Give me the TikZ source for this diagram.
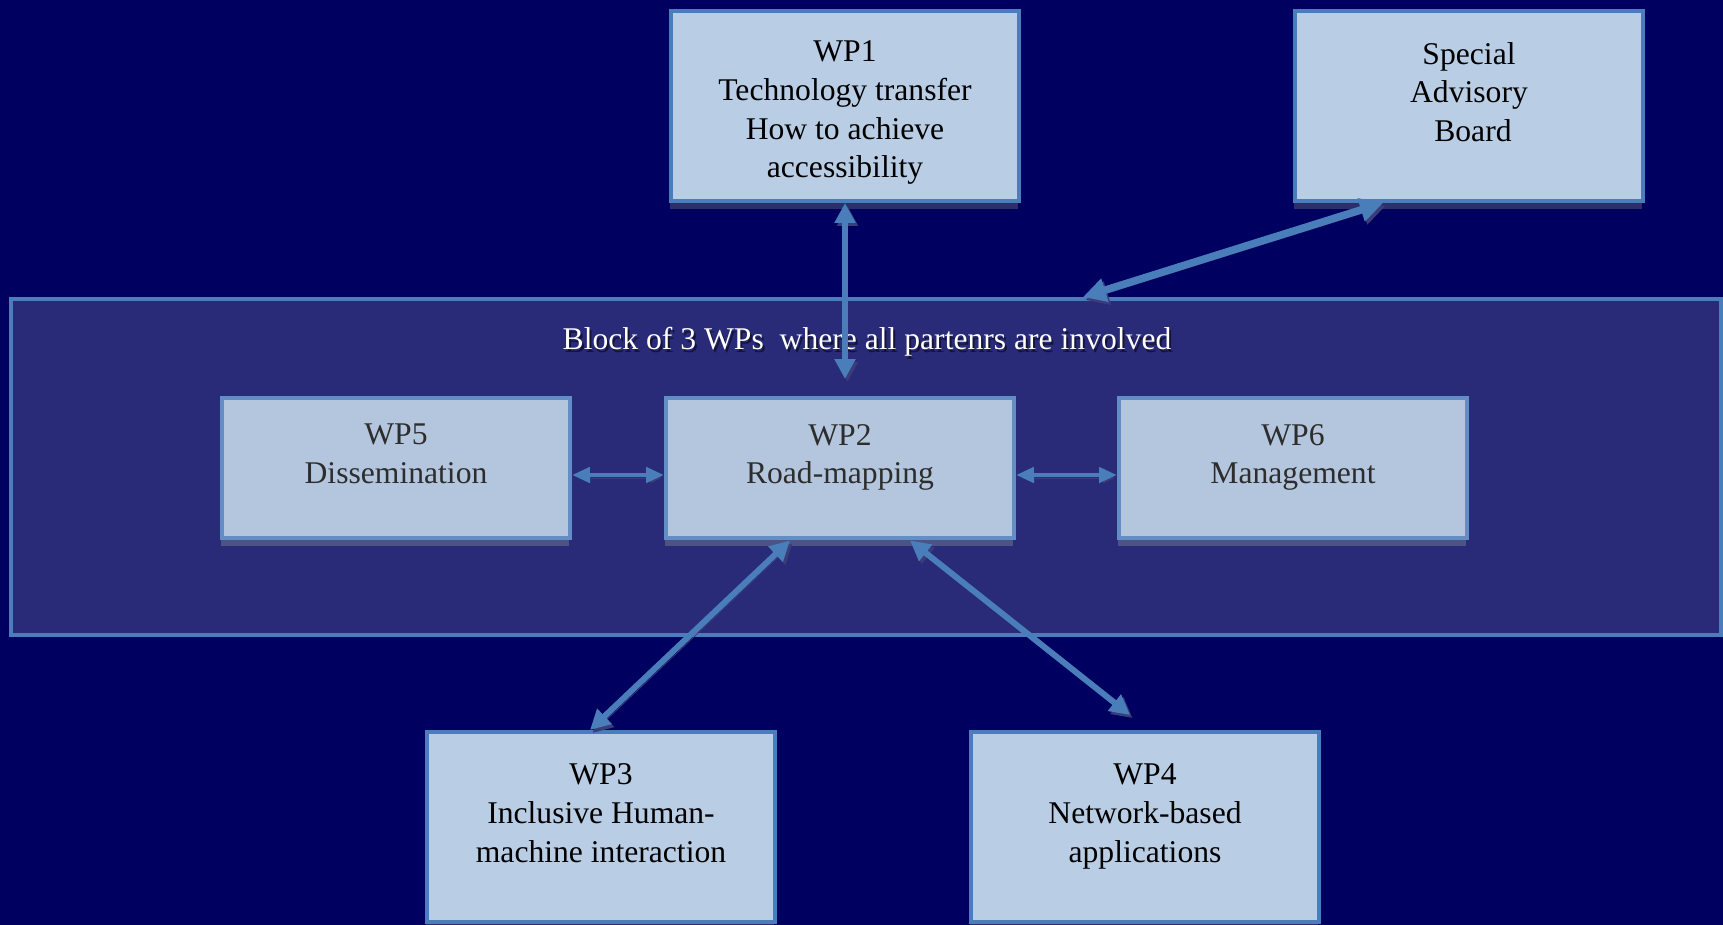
\documentclass[tikz,border=0pt]{standalone}
\usepackage{fontspec}
\setmainfont{Liberation Serif}
\usetikzlibrary{arrows.meta}
\usetikzlibrary{shadows}
\definecolor{navybg}{RGB}{0,0,96}
\definecolor{blockfill}{RGB}{41,43,120}
\definecolor{wpline}{RGB}{74,126,187}
\definecolor{wpfill}{RGB}{185,205,229}
\definecolor{innerfill}{RGB}{180,198,222}
\definecolor{innerline}{RGB}{98,142,197}
\definecolor{innertext}{RGB}{45,45,45}
\definecolor{boxshade}{RGB}{44,47,106}
\definecolor{innershade}{RGB}{77,83,132}
\definecolor{arrowshade}{RGB}{58,61,122}
\definecolor{lblshade}{RGB}{20,20,55}

\begin{document}
\begin{tikzpicture}[x=0.02cm,y=-0.02cm,>={Triangle[length=0.4cm,width=0.4cm]},
  font=\fontsize{18}{22}\selectfont,
  wpbox/.style={rectangle,draw=wpline,line width=0.08cm,fill=wpfill,align=center,
    minimum width=6.96cm,minimum height=3.8cm,
    general shadow={fill=boxshade,shadow xshift=-0.02cm,shadow yshift=-0.16cm}},
  innerbox/.style={rectangle,draw=innerline,line width=0.08cm,fill=innerfill,text=innertext,align=center,
    minimum width=6.96cm,minimum height=2.82cm,
    general shadow={fill=innershade,shadow xshift=-0.02cm,shadow yshift=-0.16cm}},
  blockbox/.style={rectangle,draw=wpline,line width=0.08cm,fill=blockfill,
    minimum width=34.2cm,minimum height=6.72cm},
  link/.style={<->,draw=wpline,line width=0.12cm,
    preaction={draw=arrowshade,transform canvas={shift={(0.05cm,-0.06cm)}}}}]
\fill[navybg] (0,0) rectangle (1723,925);
\useasboundingbox (0,0) rectangle (1723,925);

% block of the three WPs
\node[blockbox] (block) at (866,467) {};
\node[text=lblshade] (lblshade) at (869,345) {Block of 3 WPs~ where all partenrs are involved};
\node[text=white] (lbl) at (867,342) {Block of 3 WPs~ where all partenrs are involved};

% boxes
\node[wpbox] (wp1) at (845,106) {\rule{0pt}{19.5pt}WP1\\Technology transfer\\How to achieve\\accessibility};
\node[wpbox] (sab) at (1469,106) {Special\\Advisory\\\ Board\\[-6pt]\mbox{}};
\node[innerbox] (wp5) at (396,468) {WP5\\Dissemination\\[-6pt]\mbox{}};
\node[innerbox] (wp2) at (840,468) {WP2\\Road-mapping\\[-6pt]\mbox{}};
\node[innerbox] (wp6) at (1293,468) {WP6\\Management\\[-6pt]\mbox{}};
\node[wpbox] (wp3) at (601,827) {WP3\\Inclusive Human-\\machine interaction\\[-6pt]\mbox{}};
\node[wpbox] (wp4) at (1145,827) {WP4\\Network-based\\applications\\[-6pt]\mbox{}};

\coordinate (wp2in) at (845,379);

% links
\draw[link,line width=0.13cm] (wp1.south) -- (wp2in);
\draw[link,line width=0.15cm,>={Triangle[length=0.46cm,width=0.46cm]}] ([xshift=1.8cm]sab.south west) -- ([xshift=21.48cm]block.north west);
\draw[link,line width=0.09cm,>={Triangle[length=0.36cm,width=0.3cm]}] ([yshift=-0.14cm]wp5.east) -- ([yshift=-0.14cm]wp2.west);
\draw[link,line width=0.09cm,>={Triangle[length=0.36cm,width=0.3cm]}] ([yshift=-0.14cm]wp2.east) -- ([yshift=-0.14cm]wp6.west);
\draw[link] ([xshift=2.52cm]wp2.south west) -- ([xshift=-0.22cm]wp3.north);
\draw[link] ([xshift=1.4cm]wp2.south) -- ([xshift=-0.3cm,yshift=0.3cm]wp4.north);
\end{tikzpicture}
\end{document}
